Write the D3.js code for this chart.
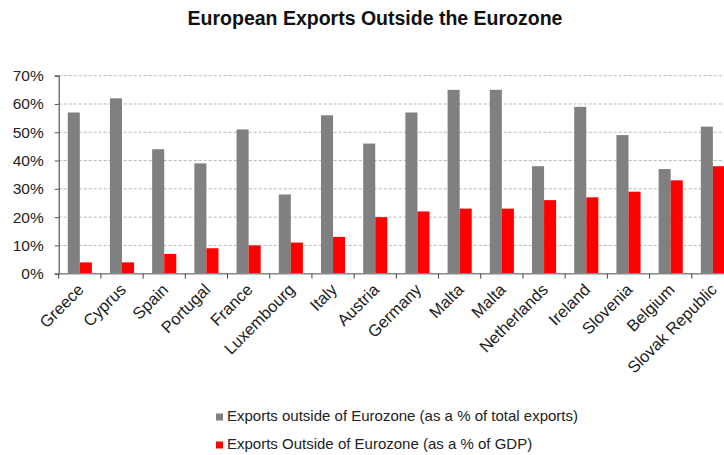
<!DOCTYPE html>
<html>
<head>
<meta charset="utf-8">
<script src="https://cdn.jsdelivr.net/npm/d3@7/dist/d3.min.js"></script>
<style>
  html, body { margin: 0; padding: 0; background: #fff; overflow: hidden; }
  svg { display: block; font-family: "Liberation Sans", Arial, sans-serif; }
</style>
</head>
<body>
<div id="chart"></div>
<script>
// Countries, in the order shown
const countries = ["Greece", "Cyprus", "Spain", "Portugal", "France", "Luxembourg", "Italy",
  "Austria", "Germany", "Malta", "Malta", "Netherlands", "Ireland", "Slovenia", "Belgium",
  "Slovak Republic"];

// Exports outside of Eurozone, % of total exports
const shareOfExports = [57, 62, 44, 39, 51, 28, 56, 46, 57, 65, 65, 38, 59, 49, 37, 52];

// Exports outside of Eurozone, % of GDP
const shareOfGDP = [4, 4, 7, 9, 10, 11, 13, 20, 22, 23, 23, 26, 27, 29, 33, 38];

const seriesNames = [
  "Exports outside of Eurozone (as a % of total exports)",
  "Exports Outside of Eurozone (as a % of GDP)"
];
const seriesColors = ["#808080", "#ff0000"];

const yTicks = [0, 10, 20, 30, 40, 50, 60, 70];

const width = 724, height = 455;
const margin = { top: 75.7, left: 58.7, bottom: 273.7, right: 734 };

const svg = d3.select("#chart").append("svg")
  .attr("width", width).attr("height", height);

const idx = countries.map((d, i) => i);

const x = d3.scaleBand().domain(idx).range([margin.left, margin.right])
  .paddingInner(0).paddingOuter(0);
const bw = x.bandwidth();
const gap = 1.5; // gap width relative to one bar
const x1 = d3.scaleBand().domain([0, 1])
  .range([bw * gap / (2 + gap) / 2, bw - bw * gap / (2 + gap) / 2]);

const y = d3.scaleLinear().domain([0, 70]).range([margin.bottom, margin.top]);

// Gridlines
svg.append("g").selectAll("line")
  .data(yTicks.filter(t => t > 0))
  .join("line")
  .attr("x1", margin.left).attr("x2", width)
  .attr("y1", d => y(d)).attr("y2", d => y(d))
  .attr("stroke", "#b8b8b8").attr("stroke-width", 1)
  .attr("stroke-dasharray", "3,2");

// Bars
const series = [shareOfExports, shareOfGDP];
series.forEach((vals, s) => {
  svg.append("g").selectAll("rect")
    .data(vals)
    .join("rect")
    .attr("x", (d, i) => x(i) + x1(s))
    .attr("width", x1.bandwidth())
    .attr("y", d => y(d))
    .attr("height", d => y(0) - y(d))
    .attr("fill", seriesColors[s]);
});

// Y axis
const yAxis = svg.append("g")
  .attr("transform", `translate(${margin.left},0)`)
  .call(d3.axisLeft(y).tickValues(yTicks).tickSize(4).tickPadding(11)
    .tickFormat(d => d + "%"));
yAxis.select(".domain").attr("stroke", "#555").attr("stroke-width", 1.2);
yAxis.selectAll(".tick line").attr("stroke", "#555");
yAxis.selectAll("text").attr("font-size", 15.5).attr("fill", "#222")
  .attr("font-family", "Liberation Sans, Arial, sans-serif");

// X axis line
svg.append("line")
  .attr("x1", margin.left).attr("x2", width)
  .attr("y1", y(0)).attr("y2", y(0))
  .attr("stroke", "#888").attr("stroke-width", 1.5);

// Category boundary ticks
svg.append("g").selectAll("line")
  .data(idx.concat([countries.length]))
  .join("line")
  .attr("x1", d => d < countries.length ? x(d) : x(d - 1) + bw)
  .attr("x2", d => d < countries.length ? x(d) : x(d - 1) + bw)
  .attr("y1", y(0)).attr("y2", y(0) + 5)
  .attr("stroke", "#444").attr("stroke-width", 1);

// Category labels, rotated
svg.append("g").selectAll("text")
  .data(idx)
  .join("text")
  .attr("transform", i => `translate(${x(i) + bw / 2 + 5},${y(0) + 17}) rotate(-45)`)
  .attr("text-anchor", "end")
  .attr("font-size", 16.5)
  .attr("fill", "#222")
  .text(i => countries[i]);

// Title
svg.append("text")
  .attr("x", 375).attr("y", 25)
  .attr("text-anchor", "middle")
  .attr("font-size", 19.5).attr("font-weight", "bold")
  .attr("fill", "#111")
  .text("European Exports Outside the Eurozone");

// Legend
const legend = svg.append("g");
seriesNames.forEach((name, s) => {
  const ly = 421 + s * 28;
  legend.append("rect")
    .attr("x", 216).attr("y", ly - 7.5)
    .attr("width", 7).attr("height", 7)
    .attr("fill", seriesColors[s]);
  legend.append("text")
    .attr("x", 227).attr("y", ly)
    .attr("font-size", 15).attr("fill", "#222")
    .text(name);
});
</script>
</body>
</html>
